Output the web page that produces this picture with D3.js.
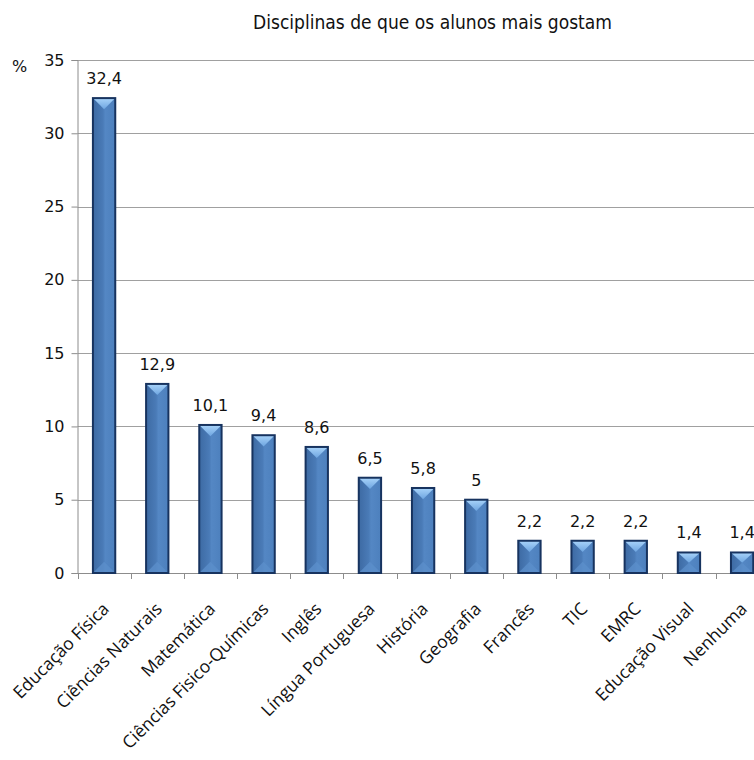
<!DOCTYPE html>
<html>
<head>
<meta charset="utf-8">
<script src="https://cdn.jsdelivr.net/npm/d3@7/dist/d3.min.js"></script>
<style>
  html, body { margin: 0; padding: 0; background: #fff; }
  svg { display: block; }
</style>
</head>
<body>
<svg id="chart" width="754" height="760"></svg>
<script>
const categories = ["Educação Física", "Ciências Naturais", "Matemática", "Ciências Fisico-Químicas",
  "Inglês", "Língua Portuguesa", "História", "Geografia", "Francês", "TIC", "EMRC",
  "Educação Visual", "Nenhuma"];
const values = [32.4, 12.9, 10.1, 9.4, 8.6, 6.5, 5.8, 5, 2.2, 2.2, 2.2, 1.4, 1.4];
const valueLabels = ["32,4", "12,9", "10,1", "9,4", "8,6", "6,5", "5,8", "5", "2,2", "2,2", "2,2", "1,4", "1,4"];
const yTicks = [0, 5, 10, 15, 20, 25, 30, 35];
const title = "Disciplinas de que os alunos mais gostam";

const svg = d3.select("#chart");
const plot = { left: 77.5, right: 768.7, top: 60, bottom: 573 };

const x = d3.scaleBand().domain(categories).range([plot.left, plot.right]).paddingInner(0.58).paddingOuter(0.29);
const y = d3.scaleLinear().domain([0, 35]).range([plot.bottom, plot.top]);

// gradients for the bevelled bars
const defs = svg.append("defs");
const side = defs.append("linearGradient").attr("id", "side").attr("x1", 0).attr("x2", 1).attr("y1", 0).attr("y2", 0);
side.append("stop").attr("offset", "0%").attr("stop-color", "#3d6aa3");
side.append("stop").attr("offset", "45%").attr("stop-color", "#4a7bb7");
side.append("stop").attr("offset", "55%").attr("stop-color", "#5487c4");
side.append("stop").attr("offset", "100%").attr("stop-color", "#4d80bd");
const topG = defs.append("linearGradient").attr("id", "topface").attr("x1", 0).attr("x2", 0).attr("y1", 0).attr("y2", 1);
topG.append("stop").attr("offset", "0%").attr("stop-color", "#a9d4fa");
topG.append("stop").attr("offset", "100%").attr("stop-color", "#6ea5e0");

// gridlines
svg.append("g")
  .selectAll("line").data(yTicks.filter(d => d > 0)).join("line")
  .attr("x1", plot.left).attr("x2", 754)
  .attr("y1", d => Math.round(y(d)) + 0.5).attr("y2", d => Math.round(y(d)) + 0.5)
  .attr("stroke", "#a0a0a0").attr("stroke-width", 1);

// y axis
const yAxis = svg.append("g").attr("transform", `translate(${plot.left},0)`)
  .call(d3.axisLeft(y).tickValues(yTicks).tickSize(6).tickPadding(7).tickFormat(d3.format("d")));
yAxis.select(".domain").attr("stroke", "#8c8c8c");
yAxis.selectAll(".tick line").attr("stroke", "#8c8c8c");
yAxis.selectAll(".tick text")
  .attr("font-family", "DejaVu Sans, sans-serif").attr("font-size", 16).attr("fill", "#111");

// x axis with ticks between categories
const boundaries = d3.range(categories.length + 1).map(i => plot.left + i * x.step());
const xAxisG = svg.append("g");
xAxisG.append("line")
  .attr("x1", plot.left).attr("x2", 754)
  .attr("y1", plot.bottom + 0.5).attr("y2", plot.bottom + 0.5)
  .attr("stroke", "#8c8c8c");
xAxisG.selectAll("line.tk").data(boundaries).join("line").attr("class", "tk")
  .attr("x1", d => Math.round(d) + 0.5).attr("x2", d => Math.round(d) + 0.5)
  .attr("y1", plot.bottom).attr("y2", plot.bottom + 6)
  .attr("stroke", "#8c8c8c");

// bars
const bars = svg.append("g").selectAll("g.bar").data(categories.map((c, i) => ({ c, v: values[i], label: valueLabels[i] })))
  .join("g").attr("class", "bar");

bars.each(function (d) {
  const g = d3.select(this);
  const x0 = x(d.c), w = x.bandwidth();
  const y0 = y(d.v), y1 = y(0);
  const h = y1 - y0;
  const tri = Math.min(w / 2, h / 2);
  g.append("rect").attr("x", x0).attr("y", y0).attr("width", w).attr("height", h).attr("fill", "url(#side)");
  // lower bevel facet
  g.append("path")
    .attr("d", `M${x0},${y1} L${x0 + w},${y1} L${x0 + w / 2},${y1 - tri} Z`)
    .attr("fill", "#5b8fcb").attr("opacity", 0.8);
  // upper bevel facet
  g.append("path")
    .attr("d", `M${x0},${y0} L${x0 + w},${y0} L${x0 + w / 2},${y0 + tri} Z`)
    .attr("fill", "url(#topface)");
  g.append("rect").attr("x", x0).attr("y", y0).attr("width", w).attr("height", h)
    .attr("fill", "none").attr("stroke", "#17335f").attr("stroke-width", 2);
  g.append("text")
    .attr("x", x0 + w / 2).attr("y", y0 - 14)
    .attr("text-anchor", "middle")
    .attr("font-family", "DejaVu Sans, sans-serif").attr("font-size", 16).attr("fill", "#111")
    .text(d.label);
});

// category labels
svg.append("g").selectAll("text").data(categories).join("text")
  .attr("transform", d => `translate(${x(d) + x.bandwidth() / 2 + 6},${plot.bottom + 37}) rotate(-45)`)
  .attr("text-anchor", "end")
  .attr("font-family", "Open Sans, sans-serif").attr("font-size", 17.5).attr("fill", "#111")
  .text(d => d);

// unit label and title
svg.append("text").attr("x", 12).attr("y", 72)
  .attr("font-family", "DejaVu Sans, sans-serif").attr("font-size", 16).attr("fill", "#111").text("%");
svg.append("text").attr("x", 253).attr("y", 29)
  .attr("font-family", "DejaVu Sans Condensed, DejaVu Sans, sans-serif").attr("font-size", 19)
  .attr("textLength", 359).attr("lengthAdjust", "spacingAndGlyphs")
  .attr("fill", "#111").text(title);
</script>
</body>
</html>
